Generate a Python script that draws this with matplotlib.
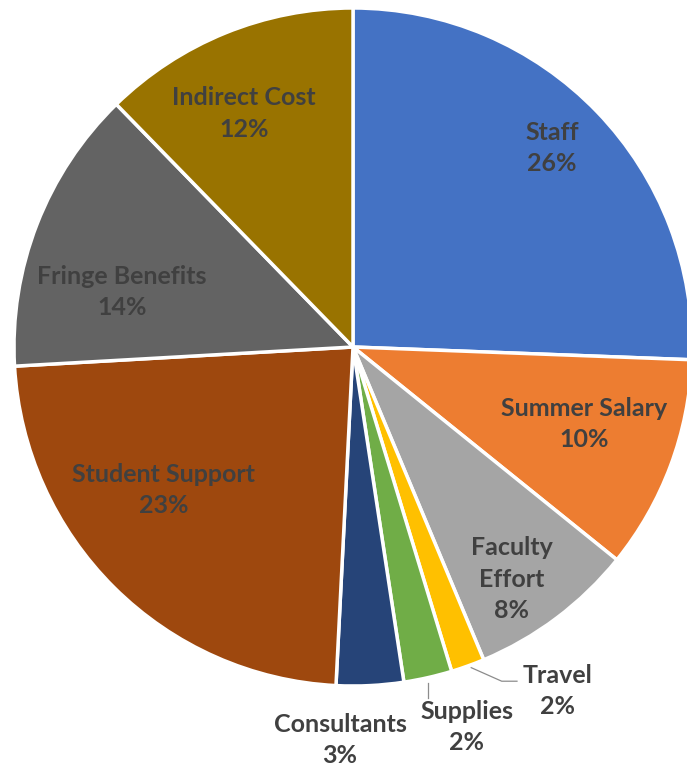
import numpy as np
import matplotlib.pyplot as plt

categories = ["Staff", "Summer Salary", "Faculty\nEffort", "Travel", "Supplies",
              "Consultants", "Student Support", "Fringe Benefits", "Indirect Cost"]
shares = [25.6, 10.2, 7.9, 1.6, 2.3, 3.2, 23.3, 13.6, 12.3]
pct_labels = ["26%", "10%", "8%", "2%", "2%", "3%", "23%", "14%", "12%"]
colors = ["#4472C4", "#ED7D31", "#A5A5A5", "#FFC000", "#70AD47",
          "#264478", "#9E480E", "#636363", "#997300"]

# label placement: (angle in degrees, distance from centre in radii)
label_pos = [(45, 0.83), (-18.4, 0.72), (-55.6, 0.83), (-59.3, 1.18), (-73.3, 1.17),
             (-91.9, 1.16), (-143, 0.70), (166.6, 0.70), (115, 0.76)]

W, H = 687, 770
cx, cy, R = 353, 347, 339  # pie centre / radius in pixels

fig = plt.figure(figsize=(W / 100, H / 100), dpi=100, facecolor="white")
ax = fig.add_axes([0, 0, 1, 1])
ax.axis("off")

wedges, _ = ax.pie(shares, colors=colors, startangle=90, counterclock=False,
                   radius=1.0, wedgeprops=dict(edgecolor="white", linewidth=2.5))
ax.set_xlim(-cx / R, (W - cx) / R)
ax.set_ylim(-(H - cy) / R, cy / R)
ax.set_aspect("auto")

txt_color = "#404040"
for name, pct, (ang, r) in zip(categories, pct_labels, label_pos):
    a = np.deg2rad(ang)
    ax.text(r * np.cos(a), r * np.sin(a), f"{name}\n{pct}", ha="center", va="center",
            fontsize=18, fontweight="bold", family="Lato", color=txt_color,
            linespacing=1.45)

# leader lines for the two thin slices
trav = wedges[3]
mid = np.deg2rad((trav.theta1 + trav.theta2) / 2)
x0, y0 = np.cos(mid), np.sin(mid)
ax.plot([x0 + 0.01, x0 + 0.1, x0 + 0.145], [y0 - 0.005, y0 - 0.045, y0 - 0.045],
        color="#8c8c8c", lw=0.9)
sup = wedges[4]
mid = np.deg2rad((sup.theta1 + sup.theta2) / 2)
x0, y0 = np.cos(mid), np.sin(mid)
ax.plot([x0, x0], [y0 - 0.015, y0 - 0.06], color="#8c8c8c", lw=0.9)

fig.savefig("out.png", dpi=100, facecolor="white")
